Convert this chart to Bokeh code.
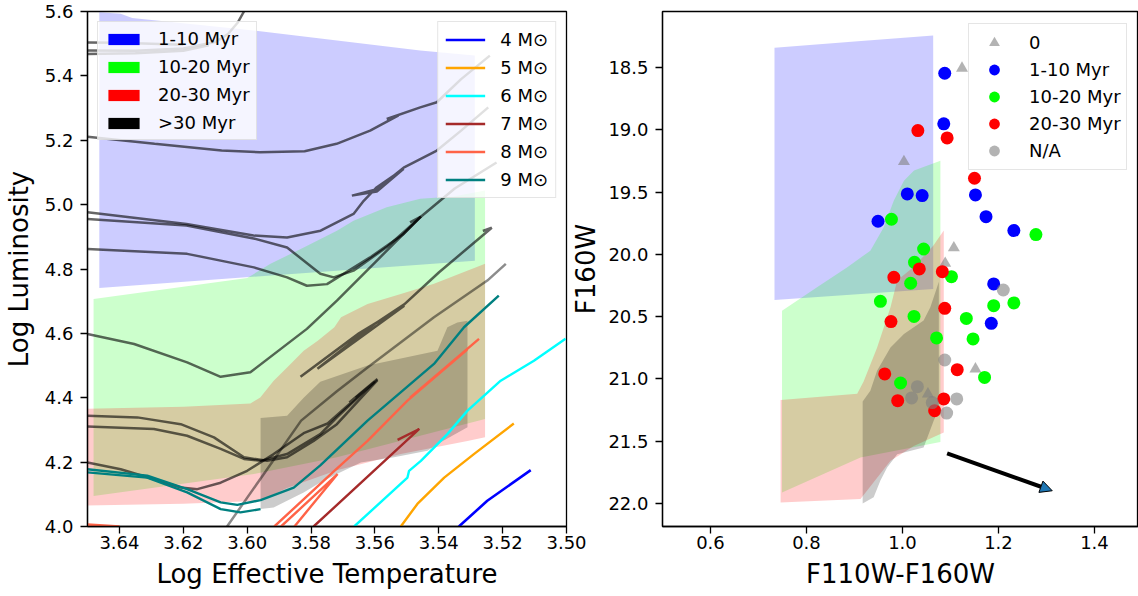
from bokeh.plotting import figure
from bokeh.layouts import row
from bokeh.models import (Range1d, FixedTicker, NumeralTickFormatter, Legend,
                          LegendItem, Arrow, NormalHead)
from bokeh.embed import file_html
from bokeh.resources import INLINE

FONT = "DejaVu Sans"
NAN = float("nan")

# ---------------- LEFT PANEL DATA (log Teff, log L) ----------------
teff_ticks = [3.64, 3.62, 3.60, 3.58, 3.56, 3.54, 3.52, 3.50]
lum_ticks = [4.0, 4.2, 4.4, 4.6, 4.8, 5.0, 5.2, 5.4, 5.6]

# age regions
age1_T = [3.6463, 3.6396, 3.6360, 3.5979, 3.5458, 3.5287, 3.5287, 3.6463]
age1_L = [5.598, 5.593, 5.580, 5.541, 5.479, 5.463, 4.826, 4.741]
age2_T = [3.6481, 3.6481, 3.6000, 3.5927, 3.5823, 3.5719, 3.5667, 3.5563, 3.5458, 3.5354, 3.5255, 3.5255, 3.5719, 3.5979]
age2_L = [4.095, 4.707, 4.772, 4.816, 4.867, 4.919, 4.950, 4.992, 5.018, 5.025, 5.044, 4.334, 4.215, 4.163]
age3_T = [3.6550, 3.6550, 3.6200, 3.5990, 3.5959, 3.5917, 3.5875, 3.5823, 3.5779, 3.5727, 3.5706, 3.5623, 3.5519, 3.5415, 3.5255, 3.5255, 3.5310, 3.5519, 3.5719, 3.5875, 3.5959, 3.6200]
age3_L = [4.064, 4.365, 4.372, 4.382, 4.401, 4.453, 4.494, 4.546, 4.577, 4.619, 4.650, 4.691, 4.722, 4.754, 4.816, 4.277, 4.266, 4.225, 4.175, 4.120, 4.080, 4.071]
age4_T = [3.5958, 3.5958, 3.5875, 3.5823, 3.5771, 3.5623, 3.5404, 3.5373, 3.5342, 3.5310, 3.5310, 3.5404, 3.5435, 3.5540, 3.5644, 3.5719, 3.5771, 3.5823, 3.5875, 3.5917]
age4_L = [4.054, 4.337, 4.344, 4.400, 4.450, 4.500, 4.546, 4.619, 4.634, 4.639, 4.308, 4.256, 4.235, 4.215, 4.199, 4.163, 4.137, 4.106, 4.080, 4.059]

# grey evolutionary tracks
trkA1_T = [3.650, 3.635, 3.620, 3.610, 3.606, 3.603, 3.601]
trkA1_L = [5.479, 5.478, 5.485, 5.505, 5.530, 5.565, 5.600]
trkA2_T = [3.650, 3.635, 3.620, 3.612]
trkA2_L = [5.468, 5.470, 5.478, 5.495]
trkA3_T = [3.650, 3.640, 3.630, 3.620]
trkA3_L = [5.504, 5.503, 5.500, 5.497]
trkB_T = [3.650, 3.629, 3.608, 3.596, 3.582, 3.572, 3.5615, 3.5526, 3.5563, 3.5458, 3.5406, 3.533, 3.524]
trkB_L = [5.211, 5.189, 5.168, 5.163, 5.166, 5.189, 5.230, 5.277, 5.266, 5.302, 5.318, 5.390, 5.463]
trkC_T = [3.650, 3.619, 3.598, 3.5875, 3.577, 3.5667, 3.5635, 3.5594, 3.551, 3.5594, 3.5672, 3.5594, 3.551, 3.5406, 3.533, 3.5245]
trkC_L = [4.976, 4.940, 4.904, 4.898, 4.919, 4.971, 5.012, 5.054, 5.111, 5.041, 5.028, 5.048, 5.115, 5.168, 5.230, 5.302]
trkD_T = [3.650, 3.619, 3.598, 3.5875, 3.5771, 3.5729, 3.5667, 3.556, 3.5458, 3.535, 3.5219]
trkD_L = [4.955, 4.935, 4.895, 4.867, 4.785, 4.774, 4.795, 4.870, 4.961, 5.050, 5.131]
trkE_T = [3.650, 3.6188, 3.5979, 3.5875, 3.5813, 3.575, 3.5615, 3.551, 3.5456, 3.549]
trkE_L = [4.862, 4.847, 4.805, 4.774, 4.748, 4.753, 4.836, 4.909, 4.963, 4.945]
trkF_T = [3.650, 3.6354, 3.6188, 3.6083, 3.599, 3.5813, 3.5719, 3.5600, 3.5456]
trkF_L = [4.598, 4.567, 4.510, 4.465, 4.479, 4.614, 4.702, 4.820, 4.963]
trkG_T = [3.5833, 3.5650, 3.5508, 3.5780, 3.5600, 3.5508, 3.5399, 3.5234, 3.5262]
trkG_L = [4.465, 4.600, 4.686, 4.490, 4.630, 4.690, 4.790, 4.928, 4.918]
trkI_T = [3.650, 3.6344, 3.6208, 3.6104, 3.601, 3.5938, 3.5875, 3.5792, 3.5719, 3.5592]
trkI_L = [4.344, 4.339, 4.318, 4.277, 4.215, 4.204, 4.215, 4.266, 4.318, 4.455]
trkJ_T = [3.650, 3.6292, 3.6188, 3.6083, 3.601, 3.5958, 3.5875, 3.5771, 3.5719, 3.5600, 3.5660]
trkJ_L = [4.311, 4.303, 4.282, 4.241, 4.210, 4.204, 4.225, 4.287, 4.339, 4.450, 4.400]
trkK_T = [3.650, 3.6396, 3.6292, 3.6208, 3.6156, 3.6083, 3.600, 3.5917, 3.5823, 3.5748, 3.5592, 3.5680]
trkK_L = [4.199, 4.178, 4.147, 4.121, 4.116, 4.136, 4.173, 4.225, 4.290, 4.320, 4.458, 4.385]
trkH_T = [3.6063, 3.5950, 3.5831, 3.5719, 3.5623, 3.5415, 3.5248, 3.519]
trkH_L = [4.000, 4.160, 4.329, 4.420, 4.494, 4.650, 4.764, 4.816]

# coloured mass tracks
m9a_T = [3.650, 3.6313, 3.6188, 3.6083, 3.6031, 3.5958, 3.5854, 3.5771, 3.5623, 3.5415, 3.5321, 3.5212]
m9a_L = [4.178, 4.158, 4.116, 4.075, 4.067, 4.082, 4.121, 4.190, 4.329, 4.505, 4.619, 4.717]
m9b_T = [3.650, 3.6313, 3.6188, 3.6083, 3.6021, 3.5958]
m9b_L = [4.168, 4.152, 4.106, 4.054, 4.044, 4.054]
m8a_T = [3.5915, 3.5727, 3.5623, 3.5498, 3.5311, 3.5490, 3.5274]
m8a_L = [4.000, 4.173, 4.266, 4.391, 4.550, 4.400, 4.583]
m8b_T = [3.5894, 3.5717, 3.5852]
m8b_L = [4.000, 4.163, 4.000]
m8c_T = [3.650, 3.640]
m8c_L = [4.006, 4.000]
m7_T = [3.5792, 3.5461, 3.5529]
m7_L = [4.000, 4.303, 4.269]
m6_T = [3.5665, 3.5498, 3.5493, 3.5456, 3.5373, 3.5310, 3.5206, 3.5102, 3.5003]
m6_L = [4.000, 4.152, 4.173, 4.204, 4.287, 4.360, 4.453, 4.515, 4.583]
m5_T = [3.5519, 3.5467, 3.5383, 3.5290, 3.5165]
m5_L = [4.000, 4.070, 4.152, 4.225, 4.320]
m4_T = [3.5337, 3.5248, 3.5112]
m4_L = [4.000, 4.080, 4.175]

age_labels = ["1-10 Myr", "10-20 Myr", "20-30 Myr", ">30 Myr"]
mass_labels = ["4 M\u2299", "5 M\u2299", "6 M\u2299", "7 M\u2299", "8 M\u2299", "9 M\u2299"]

# ---------------- RIGHT PANEL DATA (colour, magnitude) ----------------
col_ticks = [0.6, 0.8, 1.0, 1.2, 1.4]
mag_ticks = [18.5, 19.0, 19.5, 20.0, 20.5, 21.0, 21.5, 22.0]

cmd1_c = [0.7333, 0.80, 0.90, 1.064, 1.064, 0.7333]
cmd1_m = [18.342, 18.320, 18.290, 18.243, 20.278, 20.366]
cmd2_c = [0.749, 0.749, 0.780, 0.822, 0.885, 0.933, 0.961, 0.982, 1.003, 1.024, 1.079, 1.079, 0.9125]
cmd2_m = [21.912, 20.452, 20.372, 20.265, 20.104, 19.970, 19.783, 19.568, 19.408, 19.327, 19.249, 21.506, 21.630]
cmd3_c = [0.746, 0.746, 0.9056, 0.919, 0.947, 0.975, 0.989, 1.024, 1.064, 1.086, 1.086, 1.079, 1.0236, 0.975, 0.9125]
cmd3_m = [21.993, 21.169, 21.120, 21.020, 20.750, 20.425, 20.207, 20.100, 19.930, 19.809, 21.430, 21.443, 21.538, 21.658, 21.965]
cmd4_c = [0.917, 0.917, 0.933, 0.947, 0.975, 1.003, 1.044, 1.058, 1.072, 1.0757, 1.0757, 1.065, 1.044, 0.989, 0.968, 0.954, 0.940]
cmd4_m = [22.000, 21.182, 21.095, 20.934, 20.747, 20.640, 20.532, 20.425, 20.265, 20.220, 21.231, 21.336, 21.551, 21.605, 21.712, 21.816, 21.950]

zero_c = [1.124, 1.003, 1.107, 1.089, 1.152, 1.053]
zero_m = [18.505, 19.255, 19.948, 20.072, 20.920, 21.121]
young_c = [1.088, 1.086, 1.010, 1.041, 0.949, 1.152, 1.174, 1.232, 1.190, 1.185]
young_m = [18.546, 18.952, 19.515, 19.528, 19.734, 19.523, 19.697, 19.809, 20.237, 20.554]
mid_c = [0.977, 1.278, 1.044, 1.025, 1.017, 1.102, 0.954, 1.190, 1.232, 1.024, 1.133, 1.071, 1.147, 1.171, 0.996]
mid_m = [19.718, 19.841, 19.957, 20.064, 20.232, 20.179, 20.377, 20.412, 20.390, 20.498, 20.514, 20.671, 20.679, 20.988, 21.033]
old_c = [1.032, 1.093, 1.150, 0.982, 1.035, 1.083, 1.088, 0.976, 1.114, 0.963, 0.990, 1.086, 1.067]
old_m = [19.006, 19.065, 19.389, 20.184, 20.117, 20.139, 20.433, 20.540, 20.926, 20.960, 21.175, 21.161, 21.255]
na_c = [1.210, 1.088, 1.031, 1.019, 1.113, 1.092, 1.062]
na_m = [20.286, 20.848, 21.062, 21.153, 21.161, 21.274, 21.190]
cmd_labels = ["0", "1-10 Myr", "10-20 Myr", "20-30 Myr", "N/A"]

# reddening vector (start colour, start mag, end colour, end mag)
vec_c = [1.093, 1.312]
vec_m = [21.598, 21.898]


def style(p, xticks, yticks, xfmt, yfmt, xlabel, ylabel, yl_standoff):
    p.xaxis.ticker = FixedTicker(ticks=xticks)
    p.yaxis.ticker = FixedTicker(ticks=yticks)
    p.xaxis.formatter = NumeralTickFormatter(format=xfmt)
    p.yaxis.formatter = NumeralTickFormatter(format=yfmt)
    p.xaxis.axis_label = xlabel
    p.yaxis.axis_label = ylabel
    for ax in (p.xaxis[0], p.yaxis[0]):
        ax.axis_label_text_font = FONT
        ax.axis_label_text_font_size = "26px"
        ax.axis_label_text_font_style = "normal"
        ax.axis_label_text_color = "black"
        ax.major_label_text_font = FONT
        ax.major_label_text_font_size = "18px"
        ax.major_label_text_color = "black"
        ax.major_tick_out = 7
        ax.major_tick_in = 0
        ax.minor_tick_out = 0
        ax.minor_tick_in = 0
        ax.axis_line_color = "black"
        ax.axis_line_width = 1.3
        ax.major_tick_line_color = "black"
        ax.major_tick_line_width = 1.3
    p.xaxis[0].major_label_standoff = 2
    p.xaxis[0].axis_label_standoff = 7
    p.yaxis[0].major_label_standoff = 7
    p.yaxis[0].axis_label_standoff = yl_standoff
    p.grid.visible = False
    p.outline_line_color = "black"
    p.outline_line_width = 1.3


# ---------------- LEFT FIGURE ----------------
p1 = figure(width=590, height=596, x_range=Range1d(3.65, 3.50), y_range=Range1d(4.0, 5.6),
            output_backend="svg", toolbar_location=None,
            min_border_left=86, min_border_right=24, min_border_top=11, min_border_bottom=70)
style(p1, teff_ticks, lum_ticks, "0.00", "0.0", "Log Effective Temperature", "Log Luminosity", 8)

for xs, ys, c in [(age1_T, age1_L, "blue"), (age2_T, age2_L, "#00ff00"),
                  (age3_T, age3_L, "red"), (age4_T, age4_L, "black")]:
    p1.patch(xs, ys, fill_color=c, fill_alpha=0.2, line_color=None)

for xs, ys in [(trkA1_T, trkA1_L), (trkA2_T, trkA2_L), (trkA3_T, trkA3_L), (trkB_T, trkB_L),
               (trkC_T, trkC_L), (trkD_T, trkD_L), (trkE_T, trkE_L), (trkF_T, trkF_L),
               (trkG_T, trkG_L), (trkI_T, trkI_L), (trkJ_T, trkJ_L), (trkK_T, trkK_L)]:
    p1.line(xs, ys, line_color="black", line_alpha=0.6, line_width=2.5)
p1.line(trkH_T, trkH_L, line_color="black", line_alpha=0.45, line_width=2.5)

mass_r = []
mass_r.append(p1.line(m4_T, m4_L, line_color="blue", line_width=2.6))
mass_r.append(p1.line(m5_T, m5_L, line_color="orange", line_width=2.4))
mass_r.append(p1.line(m6_T, m6_L, line_color="cyan", line_width=2.4))
mass_r.append(p1.line(m7_T, m7_L, line_color="brown", line_width=2.4))
r8 = p1.line(m8a_T, m8a_L, line_color="tomato", line_width=2.4)
p1.line(m8b_T, m8b_L, line_color="tomato", line_width=2.4)
p1.line(m8c_T, m8c_L, line_color="tomato", line_width=2.4)
mass_r.append(r8)
mass_r.append(p1.line(m9a_T, m9a_L, line_color="teal", line_width=2.4))
p1.line(m9b_T, m9b_L, line_color="teal", line_width=2.4)

age_dummies = [p1.patch([NAN, NAN, NAN], [NAN, NAN, NAN], fill_color=c, fill_alpha=1.0, line_color=None)
               for c in ["blue", "#00ff00", "red", "black"]]

def make_legend(items, loc, glyph_w, glyph_h, label_h, spacing, padding):
    return Legend(items=items, location=loc, label_text_font=FONT, label_text_font_size="18px",
                  label_text_color="black", glyph_width=glyph_w, glyph_height=glyph_h,
                  label_height=label_h, spacing=spacing, padding=padding, margin=10,
                  label_standoff=15, background_fill_color="white", background_fill_alpha=0.8,
                  border_line_color="#cccccc", border_line_width=1.2)

leg1 = make_legend([LegendItem(label=l, renderers=[r]) for l, r in zip(age_labels, age_dummies)],
                   "top_left", 39, 14, 21, 7, 6)
leg2 = make_legend([LegendItem(label=l, renderers=[r]) for l, r in zip(mass_labels, mass_r)],
                   "top_right", 40, 21, 21, 7, 7)
p1.add_layout(leg1)
p1.add_layout(leg2)

# ---------------- RIGHT FIGURE ----------------
p2 = figure(width=572, height=596, x_range=Range1d(0.5, 1.4917), y_range=Range1d(22.185, 18.05),
            output_backend="svg", toolbar_location=None,
            min_border_left=96, min_border_right=0, min_border_top=11, min_border_bottom=70)
style(p2, col_ticks, mag_ticks, "0.0", "0.0", "F110W-F160W", "F160W", 4)
p2.border_fill_alpha = 0
p2.margin = (0, 0, 0, -24)

for xs, ys, c in [(cmd1_c, cmd1_m, "blue"), (cmd2_c, cmd2_m, "#00ff00"),
                  (cmd3_c, cmd3_m, "red"), (cmd4_c, cmd4_m, "black")]:
    p2.patch(xs, ys, fill_color=c, fill_alpha=0.2, line_color=None)

s0 = p2.scatter(zero_c, zero_m, marker="triangle", size=12, fill_color="gray", fill_alpha=0.6, line_color=None)
s1 = p2.scatter(young_c, young_m, marker="circle", size=13, fill_color="blue", line_color=None)
s2 = p2.scatter(mid_c, mid_m, marker="circle", size=13, fill_color="#00ff00", line_color=None)
s3 = p2.scatter(old_c, old_m, marker="circle", size=13, fill_color="red", line_color=None)
s4 = p2.scatter(na_c, na_m, marker="circle", size=13, fill_color="gray", fill_alpha=0.6, line_color=None)

p2.add_layout(Arrow(x_start=vec_c[0], y_start=vec_m[0], x_end=vec_c[1], y_end=vec_m[1],
                    line_width=4, line_color="black",
                    end=NormalHead(size=12, fill_color="#1f77b4", line_color="black", line_width=1)))

leg3 = make_legend([LegendItem(label=l, renderers=[r]) for l, r in zip(cmd_labels, [s0, s1, s2, s3, s4])],
                   (306, 356), 40, 27, 27, 0, 5)
p2.add_layout(leg3)

layout = row(p1, p2)
open("out.html", "w").write(file_html(layout, INLINE))
